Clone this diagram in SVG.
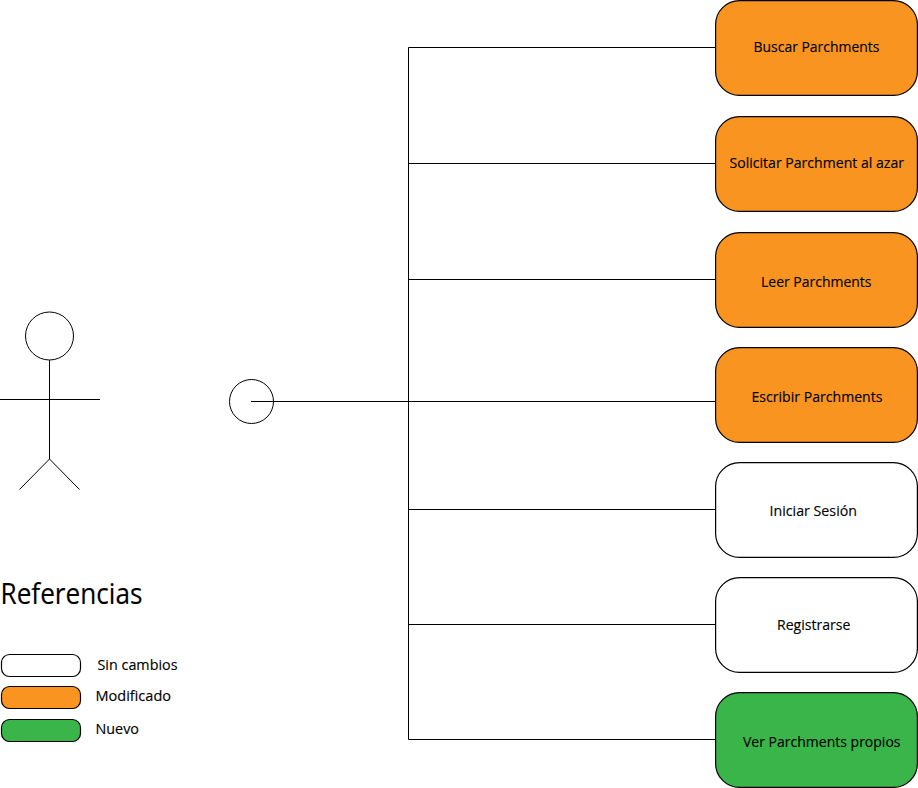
<svg xmlns="http://www.w3.org/2000/svg" width="918" height="788" viewBox="0 0 918 788">
<style>
.l{stroke:#000;stroke-width:1;fill:none}
.b{stroke:#000;stroke-width:1.2}
.o{fill:#f99420}.w{fill:#fff}.g{fill:#3ab54a}
text{font-family:"Open Sans","Noto Sans","Liberation Sans",sans-serif;font-size:15px;fill:#000;stroke:#000;stroke-width:0.15px}
</style>
<rect width="918" height="788" fill="#fff"/>
<g id="connectors">
<path class="l" d="M408.500 47.500V739.500M408.500 47.500H716M408.500 163.500H716M408.500 279.500H716M251 401.500H716M408.500 509.500H716M408.500 624.500H716M408.500 739.500H716"/>
</g>
<g id="actor">
<circle class="l" cx="49.500" cy="336" r="24"/>
<path class="l" d="M49.500 360V459M0 399.500H100M49.500 459L19.500 489.500M49.500 459L79.500 489.500"/>
</g>
<g id="interface"><circle class="l" cx="251.500" cy="401.500" r="22"/></g>
<g id="n1"><rect class="b o" x="715.600" y="0.600" width="201.800" height="94.800" rx="24"/><text x="753.500" y="52" textLength="126" lengthAdjust="spacingAndGlyphs">Buscar Parchments</text></g>
<g id="n2"><rect class="b o" x="715.600" y="116.600" width="201.800" height="94.800" rx="24"/><text x="729.500" y="168" textLength="174.500" lengthAdjust="spacingAndGlyphs">Solicitar Parchment al azar</text></g>
<g id="n3"><rect class="b o" x="715.600" y="232.600" width="201.800" height="94.800" rx="24"/><text x="761" y="287" textLength="110.500" lengthAdjust="spacingAndGlyphs">Leer Parchments</text></g>
<g id="n4"><rect class="b o" x="715.600" y="347.600" width="201.800" height="94.800" rx="24"/><text x="751.500" y="402" textLength="131" lengthAdjust="spacingAndGlyphs">Escribir Parchments</text></g>
<g id="n5"><rect class="b w" x="715.600" y="462.600" width="201.800" height="94.800" rx="24"/><text x="769.500" y="516" textLength="87.500" lengthAdjust="spacingAndGlyphs">Iniciar Sesión</text></g>
<g id="n6"><rect class="b w" x="715.600" y="577.600" width="201.800" height="94.800" rx="24"/><text x="777" y="630" textLength="73.500" lengthAdjust="spacingAndGlyphs">Registrarse</text></g>
<g id="n7"><rect class="b g" x="715.600" y="692.600" width="201.800" height="94.800" rx="24"/><text x="743" y="747" textLength="157.500" lengthAdjust="spacingAndGlyphs">Ver Parchments propios</text></g>
<g id="legend">
<text x="0.500" y="604" style="font-size:29px" textLength="142" lengthAdjust="spacingAndGlyphs">Referencias</text>
<rect class="b w" x="1.500" y="654.500" width="79" height="22" rx="8"/>
<rect class="b o" x="1.500" y="686.500" width="79" height="22" rx="8"/>
<rect class="b g" x="1.500" y="719.500" width="79" height="22" rx="8"/>
<text x="97.500" y="670" textLength="80" lengthAdjust="spacingAndGlyphs">Sin cambios</text>
<text x="95.500" y="701" textLength="75.500" lengthAdjust="spacingAndGlyphs">Modificado</text>
<text x="95.500" y="734" textLength="43.500" lengthAdjust="spacingAndGlyphs">Nuevo</text>
</g>
</svg>
